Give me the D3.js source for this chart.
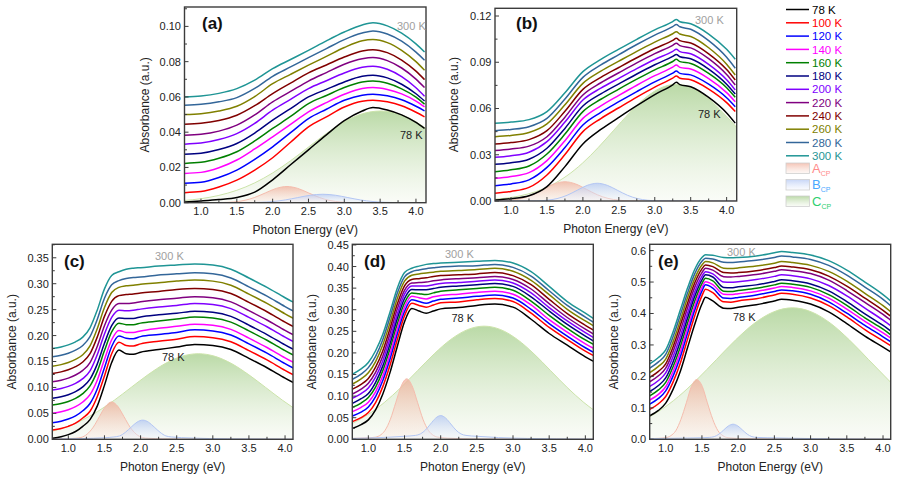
<!DOCTYPE html>
<html><head><meta charset="utf-8">
<script src="https://cdn.jsdelivr.net/npm/d3@7"></script>
<style>
body{margin:0;background:#fff}
text{font-family:"Liberation Sans",Arial,Helvetica,sans-serif}
</style>
</head><body>
<svg id="chart" width="898" height="479"></svg>
<script>
// ---------- data ----------
const temps = ["78 K","100 K","120 K","140 K","160 K","180 K","200 K","220 K","240 K","260 K","280 K","300 K"];
const lineColors = ["#000000","#ff0000","#0000ff","#ff00ff","#008000","#000080","#8000ff","#800080","#800000","#808000","#336699","#1f9595"];

// panel (a)
const xA = [0.77,1.0,1.25,1.5,1.75,2.0,2.25,2.5,2.75,3.0,3.25,3.4,3.6,3.8,4.0,4.12];
const absA = [
 [0.0004,0.0010,0.0018,0.0030,0.0060,0.0130,0.0215,0.0300,0.0385,0.0465,0.0520,0.0540,0.0526,0.0498,0.0455,0.0421],
 [0.0057,0.0063,0.0089,0.0128,0.0185,0.0255,0.0343,0.0430,0.0487,0.0543,0.0576,0.0581,0.0572,0.0550,0.0513,0.0487],
 [0.0110,0.0116,0.0143,0.0185,0.0246,0.0317,0.0397,0.0477,0.0530,0.0581,0.0610,0.0615,0.0606,0.0584,0.0547,0.0521],
 [0.0166,0.0172,0.0198,0.0242,0.0305,0.0374,0.0444,0.0515,0.0568,0.0615,0.0648,0.0653,0.0642,0.0617,0.0576,0.0543],
 [0.0223,0.0229,0.0252,0.0289,0.0350,0.0421,0.0489,0.0562,0.0608,0.0653,0.0684,0.0690,0.0677,0.0646,0.0599,0.0559],
 [0.0275,0.0281,0.0302,0.0336,0.0395,0.0468,0.0534,0.0600,0.0643,0.0685,0.0717,0.0723,0.0708,0.0672,0.0618,0.0577],
 [0.0332,0.0338,0.0358,0.0392,0.0450,0.0525,0.0586,0.0647,0.0692,0.0736,0.0768,0.0774,0.0757,0.0715,0.0652,0.0604],
 [0.0383,0.0388,0.0406,0.0440,0.0498,0.0572,0.0631,0.0690,0.0738,0.0785,0.0816,0.0823,0.0806,0.0764,0.0701,0.0653],
 [0.0445,0.0450,0.0466,0.0496,0.0550,0.0619,0.0678,0.0736,0.0781,0.0826,0.0860,0.0868,0.0851,0.0809,0.0746,0.0698],
 [0.0500,0.0505,0.0520,0.0547,0.0602,0.0675,0.0728,0.0780,0.0830,0.0880,0.0918,0.0925,0.0908,0.0864,0.0800,0.0751],
 [0.0553,0.0558,0.0572,0.0596,0.0648,0.0717,0.0770,0.0823,0.0874,0.0925,0.0962,0.0974,0.0957,0.0916,0.0854,0.0808],
 [0.0600,0.0605,0.0620,0.0647,0.0695,0.0760,0.0812,0.0864,0.0918,0.0968,0.1008,0.1020,0.1003,0.0962,0.0901,0.0855]
];
const aAcp = [[0.77,1.3,1.45,1.6,1.75,1.9,2.05,2.2,2.35,2.5,2.65,2.8,2.95,3.1,4.14],
              [0,0.0001,0.0004,0.00124,0.00299,0.00558,0.00812,0.0092,0.00812,0.00558,0.00299,0.00124,0.0004,0.0001,0]];
const aBcp = [[0.77,1.65,1.825,2.0,2.175,2.35,2.525,2.7,2.875,3.05,3.225,3.4,3.575,3.75,4.14],
              [0,0.00005,0.00021,0.00065,0.00156,0.00291,0.00424,0.0048,0.00424,0.00291,0.00156,0.00065,0.00021,0.00005,0]];
const aCcp = [[0.77,1.0,1.25,1.5,1.75,2.0,2.25,2.5,2.75,3.0,3.25,3.5,3.75,4.0,4.14],
              [0.00125,0.00228,0.00414,0.00704,0.01125,0.01688,0.0238,0.03154,0.03925,0.04589,0.0504,0.052,0.0504,0.04589,0.0420]];

// panel (b)
const xB = [0.77,1.0,1.25,1.5,1.75,2.0,2.25,2.5,2.75,3.0,3.25,3.3,3.35,3.5,3.75,4.0,4.12];
const absB = [
 [0.0006,0.0015,0.0034,0.0093,0.0223,0.0370,0.0464,0.0542,0.0618,0.0690,0.0754,0.0770,0.0755,0.0741,0.0672,0.0571,0.0505],
 [0.0050,0.0062,0.0088,0.0169,0.0301,0.0450,0.0535,0.0605,0.0674,0.0739,0.0797,0.0811,0.0796,0.0786,0.0726,0.0638,0.0580],
 [0.0099,0.0111,0.0137,0.0218,0.0347,0.0493,0.0575,0.0644,0.0710,0.0773,0.0829,0.0843,0.0828,0.0818,0.0758,0.0670,0.0612],
 [0.0147,0.0159,0.0184,0.0262,0.0391,0.0536,0.0617,0.0685,0.0751,0.0813,0.0868,0.0882,0.0867,0.0856,0.0794,0.0703,0.0644],
 [0.0190,0.0202,0.0227,0.0305,0.0434,0.0580,0.0660,0.0726,0.0790,0.0851,0.0905,0.0919,0.0904,0.0892,0.0828,0.0735,0.0673],
 [0.0238,0.0248,0.0271,0.0342,0.0471,0.0616,0.0695,0.0760,0.0824,0.0884,0.0938,0.0951,0.0936,0.0923,0.0856,0.0758,0.0694],
 [0.0283,0.0293,0.0316,0.0385,0.0512,0.0655,0.0732,0.0796,0.0859,0.0918,0.0971,0.0984,0.0969,0.0955,0.0886,0.0786,0.0720],
 [0.0328,0.0337,0.0356,0.0417,0.0544,0.0688,0.0767,0.0832,0.0896,0.0956,0.1010,0.1023,0.1008,0.0993,0.0923,0.0820,0.0752],
 [0.0370,0.0379,0.0398,0.0456,0.0582,0.0724,0.0802,0.0866,0.0929,0.0989,0.1042,0.1055,0.1040,0.1025,0.0955,0.0853,0.0785],
 [0.0417,0.0425,0.0444,0.0500,0.0624,0.0763,0.0842,0.0907,0.0971,0.1031,0.1085,0.1098,0.1083,0.1067,0.0994,0.0887,0.0817],
 [0.0456,0.0464,0.0482,0.0536,0.0661,0.0802,0.0883,0.0949,0.1015,0.1076,0.1131,0.1145,0.1130,0.1114,0.1040,0.0932,0.0861],
 [0.0504,0.0512,0.0528,0.0580,0.0702,0.0839,0.0919,0.0985,0.1049,0.1110,0.1164,0.1178,0.1163,0.1150,0.1083,0.0984,0.0920]
];
const bAcp = [[0.77,0.85,1.0,1.15,1.3,1.45,1.6,1.75,1.9,2.05,2.2,2.35,2.5,2.65,4.14],
              [0.00006,0.00014,0.00055,0.00169,0.00406,0.00758,0.01103,0.0125,0.01103,0.00758,0.00406,0.00169,0.00055,0.00014,0]];
const bBcp = [[0.77,1.36,1.5,1.64,1.78,1.92,2.06,2.2,2.34,2.48,2.62,2.76,2.9,3.04,4.14],
              [0,0.00013,0.0005,0.00156,0.00373,0.00697,0.01015,0.0115,0.01015,0.00697,0.00373,0.00156,0.0005,0.00013,0]];
const bCcp = [[0.77,1.125,1.3425,1.56,1.7775,1.995,2.2125,2.43,2.6475,2.865,3.0825,3.3,3.5175,3.735,3.9525,4.14],
              [0.0011,0.00332,0.00603,0.01024,0.01637,0.02458,0.03466,0.04591,0.05714,0.0668,0.07335,0.0757,0.07335,0.0668,0.05714,0.04775]];

// panel (c)
const xC = [0.78,0.9,1.0,1.1,1.2,1.3,1.4,1.5,1.6,1.7,1.8,1.9,2.0,2.25,2.5,2.75,3.0,3.25,3.5,3.75,4.0,4.12];
const absC = [
 [0.002,0.005,0.009,0.015,0.025,0.038,0.064,0.104,0.148,0.172,0.165,0.164,0.168,0.173,0.178,0.183,0.181,0.173,0.156,0.138,0.118,0.109],
 [0.018,0.021,0.025,0.031,0.041,0.054,0.082,0.122,0.165,0.187,0.181,0.180,0.184,0.189,0.193,0.198,0.196,0.188,0.171,0.153,0.133,0.124],
 [0.032,0.035,0.039,0.045,0.055,0.069,0.097,0.138,0.179,0.199,0.195,0.194,0.198,0.202,0.206,0.211,0.209,0.201,0.184,0.166,0.146,0.137],
 [0.050,0.053,0.057,0.063,0.072,0.086,0.114,0.154,0.192,0.210,0.206,0.206,0.209,0.214,0.218,0.222,0.220,0.212,0.195,0.177,0.157,0.148],
 [0.066,0.069,0.073,0.079,0.088,0.103,0.131,0.171,0.207,0.224,0.221,0.221,0.224,0.228,0.232,0.236,0.234,0.226,0.209,0.191,0.171,0.162],
 [0.079,0.082,0.086,0.092,0.101,0.116,0.145,0.185,0.219,0.234,0.233,0.233,0.236,0.240,0.243,0.247,0.245,0.237,0.220,0.202,0.182,0.173],
 [0.095,0.098,0.102,0.108,0.117,0.132,0.163,0.203,0.235,0.249,0.248,0.249,0.251,0.255,0.258,0.262,0.260,0.252,0.235,0.217,0.197,0.188],
 [0.111,0.114,0.118,0.124,0.133,0.148,0.179,0.219,0.249,0.262,0.262,0.263,0.265,0.269,0.272,0.275,0.273,0.265,0.248,0.230,0.210,0.201],
 [0.127,0.130,0.134,0.140,0.149,0.165,0.197,0.237,0.266,0.277,0.279,0.280,0.282,0.285,0.289,0.291,0.289,0.281,0.264,0.246,0.226,0.217],
 [0.141,0.144,0.148,0.154,0.163,0.180,0.213,0.254,0.283,0.293,0.296,0.297,0.299,0.302,0.305,0.307,0.305,0.297,0.280,0.262,0.242,0.233],
 [0.159,0.162,0.166,0.172,0.181,0.198,0.231,0.272,0.298,0.306,0.310,0.312,0.313,0.317,0.319,0.321,0.319,0.311,0.294,0.276,0.256,0.247],
 [0.175,0.178,0.182,0.188,0.197,0.215,0.249,0.290,0.316,0.323,0.328,0.330,0.331,0.334,0.336,0.338,0.336,0.328,0.311,0.293,0.273,0.264]
];
const cAcp = [[0.78,1.0,1.1,1.175,1.26,1.345,1.43,1.515,1.6,1.685,1.77,1.855,1.94,2.025,2.11,2.3,2.6,4.12],
              [0.0005,0.0012,0.002,0.0035,0.0099,0.0234,0.0437,0.0635,0.072,0.0635,0.0437,0.0234,0.0099,0.0035,0.002,0.001,0.0004,0]];
const cBcp = [[0.78,1.2,1.5,1.63,1.71,1.79,1.87,1.95,2.03,2.11,2.19,2.27,2.35,2.43,2.7,3.2,4.12],
              [0.0005,0.0015,0.003,0.0045,0.0065,0.0135,0.0235,0.033,0.037,0.033,0.0235,0.0135,0.0065,0.0045,0.0025,0.001,0.0003]];
const cCcp = [[0.78,0.94,1.1725,1.405,1.6375,1.87,2.1025,2.335,2.5675,2.8,3.0325,3.265,3.4975,3.73,3.9625,4.12],
              [0.0157,0.0223,0.0357,0.0536,0.0755,0.1001,0.1245,0.1456,0.1599,0.165,0.1599,0.1456,0.1245,0.1001,0.0755,0.0602]];

// panel (d)
const xD = [0.78,0.9,1.0,1.1,1.2,1.3,1.4,1.5,1.6,1.7,1.8,1.9,2.0,2.25,2.5,2.75,3.0,3.25,3.5,3.75,4.0,4.12];
const absD = [
 [0.025,0.034,0.045,0.068,0.105,0.155,0.215,0.272,0.303,0.297,0.292,0.297,0.302,0.305,0.310,0.313,0.306,0.278,0.245,0.218,0.191,0.180],
 [0.041,0.050,0.062,0.085,0.122,0.172,0.231,0.286,0.315,0.310,0.306,0.311,0.316,0.318,0.323,0.326,0.319,0.292,0.259,0.231,0.204,0.193],
 [0.054,0.063,0.075,0.099,0.136,0.186,0.244,0.296,0.323,0.319,0.315,0.320,0.324,0.327,0.331,0.334,0.327,0.301,0.268,0.239,0.212,0.201],
 [0.064,0.074,0.086,0.110,0.147,0.198,0.256,0.306,0.331,0.328,0.325,0.330,0.333,0.336,0.340,0.343,0.336,0.311,0.277,0.248,0.221,0.210],
 [0.074,0.084,0.097,0.121,0.159,0.210,0.267,0.316,0.339,0.337,0.335,0.339,0.343,0.346,0.349,0.352,0.345,0.320,0.287,0.257,0.230,0.219],
 [0.083,0.094,0.106,0.132,0.170,0.221,0.279,0.326,0.347,0.346,0.346,0.349,0.352,0.355,0.358,0.361,0.354,0.330,0.297,0.266,0.239,0.227],
 [0.095,0.106,0.119,0.144,0.182,0.233,0.290,0.336,0.355,0.355,0.355,0.358,0.361,0.363,0.366,0.369,0.362,0.339,0.305,0.274,0.247,0.235],
 [0.105,0.116,0.130,0.155,0.193,0.245,0.302,0.345,0.362,0.363,0.364,0.367,0.369,0.372,0.374,0.377,0.370,0.348,0.314,0.282,0.255,0.243],
 [0.116,0.127,0.141,0.167,0.205,0.257,0.313,0.355,0.370,0.372,0.374,0.377,0.379,0.381,0.383,0.386,0.379,0.358,0.324,0.291,0.264,0.252],
 [0.128,0.140,0.154,0.180,0.219,0.270,0.326,0.366,0.380,0.383,0.385,0.387,0.389,0.391,0.393,0.396,0.389,0.368,0.335,0.301,0.274,0.262],
 [0.139,0.151,0.166,0.192,0.231,0.283,0.338,0.376,0.388,0.392,0.395,0.397,0.399,0.401,0.402,0.405,0.398,0.378,0.344,0.310,0.283,0.270],
 [0.151,0.163,0.178,0.205,0.243,0.295,0.350,0.386,0.396,0.401,0.405,0.407,0.408,0.410,0.412,0.414,0.408,0.388,0.354,0.319,0.292,0.279]
];
const dAcp = [[0.78,0.95,1.08,1.155,1.23,1.305,1.38,1.455,1.53,1.605,1.68,1.755,1.83,1.905,1.98,2.2,2.6,4.12],
              [0.002,0.003,0.0045,0.0085,0.0205,0.0465,0.0855,0.1237,0.14,0.1237,0.0855,0.0465,0.0205,0.0085,0.0045,0.002,0.0008,0]];
const dBcp = [[0.78,1.0,1.3,1.5,1.65,1.72,1.79,1.86,1.93,2.0,2.07,2.14,2.21,2.28,2.35,2.5,2.8,3.2,3.6,4.12],
              [0.002,0.003,0.005,0.007,0.009,0.0125,0.0215,0.0355,0.049,0.055,0.049,0.0355,0.0215,0.0125,0.009,0.007,0.004,0.002,0.001,0.0005]];
const dCcp = [[0.78,0.99,1.22,1.45,1.68,1.91,2.14,2.37,2.6,2.83,3.06,3.29,3.52,3.75,3.98,4.12],
              [0.0369,0.0567,0.0851,0.1199,0.1589,0.1978,0.2312,0.2539,0.262,0.2539,0.2312,0.1978,0.1589,0.1199,0.0851,0.0672]];

// panel (e)
const xE = [0.78,0.9,1.0,1.1,1.2,1.3,1.4,1.5,1.55,1.65,1.8,1.9,2.0,2.25,2.5,2.6,2.75,3.0,3.25,3.5,3.75,4.0,4.12];
const absE = [
 [0.075,0.092,0.115,0.158,0.215,0.290,0.365,0.430,0.452,0.440,0.417,0.416,0.420,0.428,0.440,0.445,0.442,0.430,0.405,0.368,0.328,0.293,0.276],
 [0.095,0.113,0.136,0.181,0.241,0.317,0.392,0.456,0.477,0.466,0.437,0.436,0.440,0.447,0.459,0.464,0.461,0.449,0.425,0.389,0.349,0.313,0.296],
 [0.112,0.130,0.154,0.200,0.261,0.336,0.410,0.471,0.491,0.481,0.449,0.448,0.451,0.459,0.470,0.475,0.472,0.461,0.437,0.401,0.362,0.326,0.308],
 [0.125,0.143,0.167,0.215,0.277,0.352,0.424,0.483,0.501,0.492,0.461,0.460,0.463,0.470,0.481,0.486,0.483,0.472,0.449,0.414,0.375,0.338,0.320],
 [0.138,0.157,0.181,0.230,0.293,0.368,0.439,0.495,0.512,0.504,0.471,0.470,0.473,0.480,0.491,0.496,0.493,0.483,0.460,0.426,0.386,0.350,0.330],
 [0.152,0.171,0.195,0.245,0.310,0.384,0.454,0.507,0.523,0.516,0.483,0.482,0.485,0.491,0.502,0.507,0.504,0.494,0.472,0.438,0.399,0.362,0.342],
 [0.168,0.187,0.211,0.262,0.327,0.400,0.468,0.518,0.533,0.526,0.500,0.499,0.501,0.508,0.518,0.523,0.520,0.510,0.489,0.456,0.417,0.379,0.359],
 [0.183,0.202,0.226,0.278,0.344,0.417,0.483,0.530,0.544,0.538,0.517,0.516,0.518,0.524,0.534,0.539,0.536,0.527,0.506,0.473,0.435,0.397,0.376],
 [0.197,0.216,0.240,0.293,0.361,0.432,0.497,0.542,0.554,0.549,0.530,0.529,0.530,0.536,0.546,0.551,0.548,0.539,0.519,0.487,0.449,0.410,0.389],
 [0.212,0.232,0.255,0.309,0.377,0.449,0.511,0.554,0.565,0.561,0.544,0.543,0.545,0.551,0.560,0.565,0.562,0.553,0.534,0.503,0.464,0.425,0.403],
 [0.226,0.246,0.270,0.325,0.394,0.464,0.526,0.566,0.576,0.573,0.563,0.562,0.564,0.569,0.578,0.583,0.580,0.572,0.553,0.522,0.484,0.445,0.422],
 [0.240,0.260,0.284,0.340,0.410,0.480,0.540,0.578,0.587,0.585,0.578,0.577,0.578,0.583,0.593,0.597,0.594,0.586,0.568,0.538,0.500,0.460,0.437]
];
const eAcp = [[0.78,0.9,1.0,1.07,1.14,1.21,1.285,1.355,1.43,1.505,1.575,1.65,1.72,1.79,1.86,2.1,2.5,4.12],
              [0.002,0.003,0.005,0.0115,0.0277,0.0632,0.1162,0.1682,0.19,0.1682,0.1162,0.0632,0.0277,0.0115,0.005,0.002,0.001,0]];
const eBcp = [[0.78,1.0,1.3,1.5,1.6,1.67,1.735,1.8,1.865,1.93,1.995,2.06,2.125,2.19,2.26,2.4,2.7,3.1,3.6,4.12],
              [0.002,0.003,0.004,0.005,0.006,0.0085,0.0165,0.0295,0.0425,0.048,0.0425,0.0295,0.0165,0.0085,0.006,0.005,0.0035,0.002,0.001,0.0005]];
const eCcp = [[0.78,0.9125,1.175,1.4375,1.7,1.9625,2.225,2.4875,2.75,3.0125,3.275,3.5375,3.8,4.0625,4.12],
              [0.0719,0.0904,0.1357,0.1914,0.2535,0.3155,0.3689,0.405,0.418,0.405,0.3689,0.3155,0.2535,0.1914,0.178]];

const xMajorTicks = [1.0,1.5,2.0,2.5,3.0,3.5,4.0];
const peakNames = ["A","B","C"];

// ---------- layout ----------
const panels = [
 {key:"a", label:"(a)", xs:xA, rows:absA, peaks:{A:aAcp,B:aBcp,C:aCcp}, l:184.5, r:426, t:7, b:202.7, xd:[0.77,4.14], yd:[0,0.111], ym:0.02, fmt:".2f", lab:[202,29], t300:[397,29.5], t78:[400,138.5], ytx:-40},
 {key:"b", label:"(b)", xs:xB, rows:absB, peaks:{A:bAcp,B:bBcp,C:bCcp}, l:495, r:736.7, t:8.3, b:201, xd:[0.777,4.14], yd:[0,0.125], ym:0.03, fmt:".2f", lab:[516,29], t300:[695,24], t78:[698,117.5], ytx:-41},
 {key:"c", label:"(c)", xs:xC, rows:absC, peaks:{A:cAcp,B:cBcp,C:cCcp}, l:52.3, r:293, t:244.3, b:439.3, xd:[0.778,4.11], yd:[0,0.376], ym:0.05, fmt:".2f", lab:[64,267], t300:[155,259.5], t78:[162,360.5], ytx:-40.6},
 {key:"d", label:"(d)", xs:xD, rows:absD, peaks:{A:dAcp,B:dBcp,C:dCcp}, l:352.3, r:593.3, t:244.3, b:439.3, xd:[0.778,4.11], yd:[0,0.4515], ym:0.05, fmt:".2f", lab:[364,267], t300:[445,258], t78:[451.5,322], ytx:-40.6},
 {key:"e", label:"(e)", xs:xE, rows:absE, peaks:{A:eAcp,B:eBcp,C:eCcp}, l:649.7, r:890.7, t:244.3, b:439.3, xd:[0.779,4.106], yd:[0,0.62], ym:0.1, fmt:".1f", lab:[658,267], t300:[727,256], t78:[733,320.5], ytx:-36}
];

const svg = d3.select("#chart");
const defs = svg.append("defs");
function grad(id,c0,c1,o0,o1){
  const g = defs.append("linearGradient").attr("id",id).attr("x1",0).attr("y1",0).attr("x2",0).attr("y2",1);
  g.append("stop").attr("offset","0%").attr("stop-color",c0).attr("stop-opacity",o0);
  g.append("stop").attr("offset","100%").attr("stop-color",c1).attr("stop-opacity",o1);
}
grad("gA","#f0aa95","#fbe9e2",0.7,0.35);
grad("gB","#aec3f3","#f0f4fd",0.7,0.35);
grad("gC","#a9d090","#f4f8ee",0.8,0.45);
const peakStroke = {A:"#f4bcad", B:"#b3c6f3", C:"#cbe3a9"};

panels.forEach(p=>{
  const g = svg.append("g");
  const x = d3.scaleLinear().domain(p.xd).range([p.l,p.r]);
  const y = d3.scaleLinear().domain(p.yd).range([p.b,p.t]);
  const cid = "clip_"+p.key;
  defs.append("clipPath").attr("id",cid).append("rect")
    .attr("x",p.l).attr("y",p.t).attr("width",p.r-p.l).attr("height",p.b-p.t);
  const body = g.append("g").attr("clip-path",`url(#${cid})`);
  const area = d3.area().x(d=>x(d[0])).y0(y(0)).y1(d=>y(d[1])).curve(d3.curveMonotoneX);
  const line = d3.line().x(d=>x(d[0])).y(d=>y(d[1])).curve(d3.curveMonotoneX);
  ["C","A","B"].forEach(k=>{
    const arr = p.peaks[k];
    const pts = arr[0].map((v,i)=>[v,arr[1][i]]);
    body.append("path").attr("d",area(pts)).attr("fill",`url(#g${k})`);
    body.append("path").attr("d",line(pts)).attr("fill","none").attr("stroke",peakStroke[k]).attr("stroke-width",1);
  });
  for(let i=p.rows.length-1;i>=0;i--){
    const row = p.rows[i];
    const pts = p.xs.map((v,j)=>[v,row[j]]);
    body.append("path").attr("d",line(pts)).attr("fill","none")
      .attr("stroke",lineColors[i]).attr("stroke-width",1.5).attr("stroke-linejoin","round");
  }
  g.append("rect").attr("x",p.l).attr("y",p.t).attr("width",p.r-p.l).attr("height",p.b-p.t)
    .attr("fill","none").attr("stroke","#3c3c3c").attr("stroke-width",1.4);
  const fx = d3.format(".1f");
  xMajorTicks.forEach(v=>{
    g.append("line").attr("x1",x(v)).attr("x2",x(v)).attr("y1",p.b).attr("y2",p.b-4).attr("stroke","#3c3c3c").attr("stroke-width",1);
    g.append("text").attr("x",x(v)).attr("y",p.b+12.5).attr("text-anchor","middle").attr("font-size",11).attr("fill","#222").text(fx(v));
  });
  for(let k=0;k<xMajorTicks.length;k++){
    const v = xMajorTicks[k]+0.25;
    if(v<p.xd[1]) g.append("line").attr("x1",x(v)).attr("x2",x(v)).attr("y1",p.b).attr("y2",p.b-2.5).attr("stroke","#3c3c3c").attr("stroke-width",1);
  }
  const fy = d3.format(p.fmt);
  const n = Math.floor(p.yd[1]/p.ym+1e-6);
  for(let k=0;k<=n;k++){
    const v = k*p.ym;
    g.append("line").attr("x1",p.l).attr("x2",p.l+4).attr("y1",y(v)).attr("y2",y(v)).attr("stroke","#3c3c3c").attr("stroke-width",1);
    g.append("text").attr("x",p.l-3.5).attr("y",y(v)).attr("dy","0.36em").attr("text-anchor","end").attr("font-size",11).attr("fill","#222").text(fy(v));
    const m = (k+0.5)*p.ym;
    if(m<p.yd[1]) g.append("line").attr("x1",p.l).attr("x2",p.l+2.5).attr("y1",y(m)).attr("y2",y(m)).attr("stroke","#3c3c3c").attr("stroke-width",1);
  }
  g.append("text").attr("x",(p.l+p.r)/2).attr("y",p.b+31.5).attr("text-anchor","middle").attr("font-size",12).attr("fill","#222").text("Photon Energy (eV)");
  const cy = (p.t+p.b)/2, cx = p.l+p.ytx;
  g.append("text").attr("transform",`translate(${cx},${cy}) rotate(-90)`).attr("text-anchor","middle").attr("dy","0.35em")
    .attr("font-size",12).attr("fill","#222").text("Absorbance (a.u.)");
  g.append("text").attr("x",p.lab[0]).attr("y",p.lab[1]).attr("font-size",17).attr("font-weight","bold").attr("fill","#111").text(p.label);
  g.append("text").attr("x",p.t300[0]).attr("y",p.t300[1]).attr("font-size",11).attr("fill","#a0a0a0").text("300 K");
  g.append("text").attr("x",p.t78[0]).attr("y",p.t78[1]).attr("font-size",11).attr("fill","#222").text("78 K");
});

const leg = svg.append("g");
temps.forEach((t,i)=>{
  const yy = 9.5 + 13.3*i;
  leg.append("line").attr("x1",786).attr("x2",809).attr("y1",yy).attr("y2",yy).attr("stroke",lineColors[i]).attr("stroke-width",1.5);
  leg.append("text").attr("x",812).attr("y",yy).attr("dy","0.36em").attr("font-size",11.5).attr("fill",lineColors[i]).text(t);
});
const peakLegColors = {A:"#ff8c8c", B:"#4aa8ff", C:"#2fcf6f"};
const peakLegY = {A:163, B:179.5, C:196};
peakNames.forEach(k=>{
  const yy = peakLegY[k];
  leg.append("rect").attr("x",786).attr("y",yy).attr("width",23.5).attr("height",10.5)
    .attr("fill",`url(#g${k})`).attr("stroke","#cfcfcf").attr("stroke-width",0.8);
  const tx = leg.append("text").attr("x",812).attr("y",yy+9.8).attr("font-size",13).attr("fill",peakLegColors[k]);
  tx.append("tspan").text(k);
  tx.append("tspan").attr("font-size",7).attr("dy",3).text("CP");
});
</script>
</body></html>
